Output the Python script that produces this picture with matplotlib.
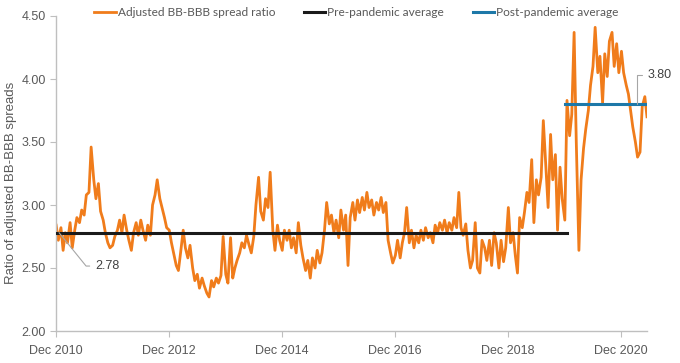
import numpy as np
import pandas as pd
import matplotlib
matplotlib.use("Agg")
import matplotlib.pyplot as plt

# semi-monthly readings of the adjusted BB-BBB spread ratio, one list per year
v2011 = [2.84, 2.72, 2.82, 2.64, 2.78, 2.70, 2.86, 2.66, 2.80, 2.90, 2.86, 2.96,
         2.92, 3.08, 3.10, 3.46, 3.20, 3.05, 3.17, 2.95, 2.88, 2.78, 2.70, 2.66]
v2012 = [2.68, 2.75, 2.80, 2.88, 2.78, 2.92, 2.80, 2.72, 2.64, 2.78, 2.86, 2.76,
         2.88, 2.80, 2.72, 2.84, 2.76, 3.00, 3.08, 3.20, 3.05, 2.98, 2.90, 2.82]
v2013 = [2.80, 2.70, 2.60, 2.52, 2.48, 2.62, 2.80, 2.66, 2.58, 2.68, 2.50, 2.40,
         2.45, 2.34, 2.42, 2.36, 2.30, 2.27, 2.40, 2.35, 2.42, 2.38, 2.44, 2.75]
v2014 = [2.45, 2.38, 2.74, 2.42, 2.50, 2.56, 2.62, 2.70, 2.66, 2.76, 2.68, 2.62,
         2.75, 3.00, 3.22, 2.95, 2.88, 3.05, 2.98, 3.26, 2.80, 2.64, 2.84, 2.72]
v2015 = [2.64, 2.80, 2.72, 2.80, 2.66, 2.74, 2.62, 2.86, 2.68, 2.58, 2.48, 2.56,
         2.42, 2.58, 2.50, 2.64, 2.54, 2.62, 2.80, 3.02, 2.85, 2.92, 2.78, 2.88]
v2016 = [2.74, 2.96, 2.80, 2.92, 2.52, 2.90, 3.02, 2.88, 3.04, 2.94, 3.06, 2.96,
         3.10, 2.98, 3.04, 2.92, 3.02, 2.96, 3.06, 2.94, 3.02, 2.72, 2.62, 2.54]
v2017 = [2.60, 2.72, 2.58, 2.70, 2.78, 2.98, 2.70, 2.80, 2.66, 2.76, 2.70, 2.80,
         2.72, 2.82, 2.74, 2.78, 2.70, 2.84, 2.78, 2.86, 2.80, 2.88, 2.78, 2.86]
v2018 = [2.80, 2.90, 2.82, 3.10, 2.82, 2.76, 2.85, 2.64, 2.50, 2.56, 2.86, 2.50,
         2.46, 2.72, 2.66, 2.56, 2.72, 2.52, 2.78, 2.70, 2.50, 2.72, 2.55, 2.66]
v2019 = [2.98, 2.70, 2.78, 2.60, 2.46, 2.90, 2.82, 2.94, 3.10, 3.02, 3.36, 2.86,
         3.20, 3.08, 3.22, 3.67, 3.30, 2.98, 3.56, 3.20, 3.40, 2.80, 3.30, 3.05]
v2020 = [2.88, 3.83, 3.55, 3.72, 4.37, 3.50, 2.64, 3.20, 3.45, 3.60, 3.75, 3.95,
         4.10, 4.41, 4.05, 4.18, 3.81, 4.20, 4.02, 4.30, 4.37, 4.10, 4.28, 4.05]
v2021 = [4.22, 4.05, 3.95, 3.88, 3.75, 3.62, 3.50, 3.38, 3.42, 3.78, 3.86, 3.70]

ratio = v2011 + v2012 + v2013 + v2014 + v2015 + v2016 + v2017 + v2018 + v2019 + v2020 + v2021
dates = pd.date_range("2011-01-01", periods=len(ratio), freq="SMS")

pre_avg = 2.78
pre_span = ["2011-01-01", "2020-01-12"]
post_avg = 3.80
post_span = ["2020-01-05", "2021-06-15"]

tick_years = [2010, 2012, 2014, 2016, 2018, 2020]

orange = "#F07C1B"
blue = "#1D78A8"
grey_txt = "#595959"

plt.rcParams["font.family"] = ["Liberation Sans", "DejaVu Sans"]

fig = plt.figure(figsize=(6.8, 3.63), dpi=100)
ax = fig.add_axes([56 / 680, 1 - 331 / 363, 591 / 680, 315 / 363])

ax.plot(dates, ratio, color=orange, lw=2.0, label="Adjusted BB-BBB spread ratio", zorder=2)
ax.plot(pd.to_datetime(pre_span), [pre_avg, pre_avg], color="#1a1a1a", lw=2.2,
        label="Pre-pandemic average", zorder=3)
ax.plot(pd.to_datetime(post_span), [post_avg, post_avg], color=blue, lw=2.2,
        label="Post-pandemic average", zorder=3)

ax.set_ylim(2.0, 4.5)
ax.set_yticks(np.arange(2.0, 4.51, 0.5))
ax.yaxis.set_major_formatter(matplotlib.ticker.FormatStrFormatter("%.2f"))
ax.set_xlim(pd.Timestamp("2010-12-31"), pd.Timestamp("2021-06-15"))
ax.set_xticks([pd.Timestamp(f"{y}-12-31") for y in tick_years])
ax.set_xticklabels([f"Dec {y}" for y in tick_years])

for s in ["top", "right"]:
    ax.spines[s].set_visible(False)
for s in ["left", "bottom"]:
    ax.spines[s].set_color("#BFBFBF")
    ax.spines[s].set_linewidth(1.0)
ax.tick_params(axis="both", colors="#BFBFBF", labelcolor=grey_txt, labelsize=9, length=4, width=0.8)
ax.tick_params(axis="x", pad=6)

ax.set_ylabel("Ratio of adjusted BB-BBB spreads", fontsize=9.5, color=grey_txt)
ax.yaxis.set_label_coords(-39 / 591, 0.47)

# value call-outs
ax.annotate("2.78", xy=(pd.Timestamp("2011-01-20"), pre_avg), xytext=(26, -24),
            textcoords="offset points", ha="left", va="center", fontsize=9, color="#404040",
            arrowprops=dict(arrowstyle="-", color="#A6A6A6", lw=0.8, shrinkA=2, shrinkB=0,
                            connectionstyle="angle,angleA=0,angleB=-51,rad=0"))
ax.annotate("3.80", xy=(pd.Timestamp("2021-04-10"), post_avg), xytext=(8, 21),
            textcoords="offset points", ha="left", va="center", fontsize=9, color="#404040",
            annotation_clip=False,
            arrowprops=dict(arrowstyle="-", color="#A6A6A6", lw=0.8, shrinkA=2, shrinkB=0,
                            connectionstyle="angle,angleA=0,angleB=90,rad=0"))

leg = fig.legend(loc="center", bbox_to_anchor=(0.524, 0.966), ncol=3, frameon=False,
                 handlelength=1.8, handletextpad=0.15, columnspacing=2.4,
                 prop={"family": "Lato", "size": 8.6})
for t in leg.get_texts():
    t.set_color(grey_txt)

fig.savefig("out.png", dpi=100)
